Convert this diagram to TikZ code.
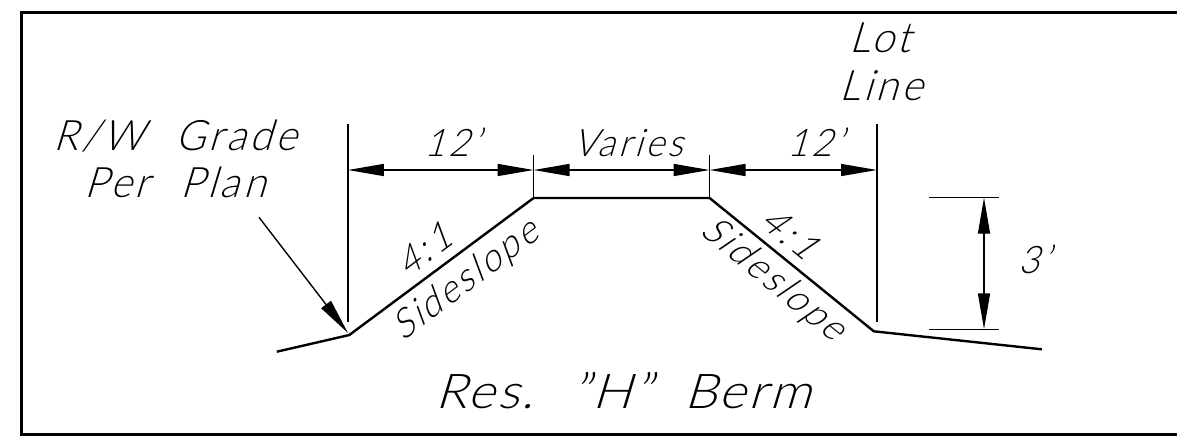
\documentclass[tikz,border=0pt]{standalone}
\usepackage{fontspec}
\usetikzlibrary{arrows.meta}
\newfontfamily\cadfont[FakeSlant=0.3,LetterSpace=8,FakeStretch=0.97,WordSpace=2.2,Ligatures=TeX]{Lato Light}
\newfontfamily\caddim[FakeSlant=0.3,LetterSpace=8,FakeStretch=0.95,Ligatures=TeX]{Lato Light}
\newfontfamily\cadttl[FakeSlant=0.3,LetterSpace=5,FakeStretch=1.08,WordSpace=2.0,Ligatures=TeX]{Lato Light}
\tikzset{
  ground/.style={line width=2.4pt,line join=miter},
  thin line/.style={line width=1.4pt},
  frame line/.style={line width=2.6pt},
  dimline/.style={line width=1.4pt,{Triangle[length=36pt,width=12pt]}-{Triangle[length=36pt,width=12pt]}},
  leader/.style={line width=1.4pt,-{Triangle[length=36pt,width=12pt]}},
  lab/.style={inner sep=0pt,anchor=base,font=\cadfont\fontsize{42}{42}\selectfont},
  dimlab/.style={inner sep=0pt,anchor=base,font=\caddim\fontsize{38}{38}\selectfont},
  slopelab/.style={inner sep=0pt,font=\caddim\fontsize{38}{38}\selectfont},
  title/.style={inner sep=0pt,anchor=base,font=\cadttl\fontsize{48}{48}\selectfont}
}
\begin{document}
\begin{tikzpicture}[x=1pt,y=-1pt]
\useasboundingbox (0,0) rectangle (1177,445);
\fill[white] (0,0) rectangle (1177,445);
\coordinate (ftr) at (1177,12.7); \coordinate (ftl) at (21.4,12.7);
\coordinate (fbl) at (21.4,434.3); \coordinate (fbr) at (1177,434.3);
\draw[frame line] (ftr) -- (ftl) -- (fbl) -- (fbr);
% ground
\coordinate (g0) at (276.8,351.7);
\coordinate (g1) at (349.3,335);
\coordinate (g2) at (533.6,198);
\coordinate (g3) at (709.6,198);
\coordinate (g4) at (873.8,331.3);
\coordinate (g5) at (1041.9,349.3);
\draw[ground] (g0) -- (g1) -- (g2) -- (g3) -- (g4) -- (g5);
% extension lines
\coordinate (e1t) at (347.9,124); \coordinate (e1b) at (347.9,321.7);
\coordinate (e4t) at (877,124);   \coordinate (e4b) at (877,321.7);
\coordinate (e2t) at (533.6,155);
\coordinate (e3t) at (709.6,155);
\draw[thin line] (e1t) -- (e1b);
\draw[thin line] (e4t) -- (e4b);
\draw[thin line] (e2t) -- (g2);
\draw[thin line] (e3t) -- (g3);
% horizontal dimensions
\coordinate (d1) at (347.9,170); \coordinate (d2) at (533.6,170);
\coordinate (d3) at (709.6,170); \coordinate (d4) at (877,170);
\draw[dimline] (d1) -- (d2);
\draw[dimline] (d2) -- (d3);
\draw[dimline] (d3) -- (d4);
% height dimension
\coordinate (h1l) at (929,197.7); \coordinate (h1r) at (999,197.7);
\coordinate (h2l) at (929,329.3); \coordinate (h2r) at (999,329.3);
\coordinate (ha) at (984,197.7);  \coordinate (hb) at (984,329.3);
\draw[thin line] (h1l) -- (h1r);
\draw[thin line] (h2l) -- (h2r);
\draw[dimline] (ha) -- (hb);
% leader
\coordinate (ls) at (259,217.3);
\coordinate (lt) at (348,333);
\draw[leader] (ls) -- (lt);
% labels
\node[lab] (rw) at (175,150) {R/W Grade};
\node[lab] (pp) at (175,197) {Per Plan};
\node[lab] (lot) at (880,52) {Lot};
\node[lab] (line) at (881,100) {Line};
\node[dimlab] (t12a) at (452,156) {12'};
\node[dimlab] (tv) at (628,156) {Varies};
\node[dimlab] (t12b) at (815,156) {12'};
\node[dimlab] (t3) at (1034,273) {3'};
\node[slopelab,rotate=37] (s41a) at (424,250) {4:\kern5pt 1};
\node[slopelab,rotate=37] (ssa) at (466,281) {Sideslope};
\node[slopelab,rotate=-39] (s41b) at (790,233) {4:\kern5pt 1};
\node[slopelab,rotate=-39] (ssb) at (773,280) {Sideslope};
\node[title] (ttl) at (623,408) {Res. ”H” Berm};
\end{tikzpicture}
\end{document}
